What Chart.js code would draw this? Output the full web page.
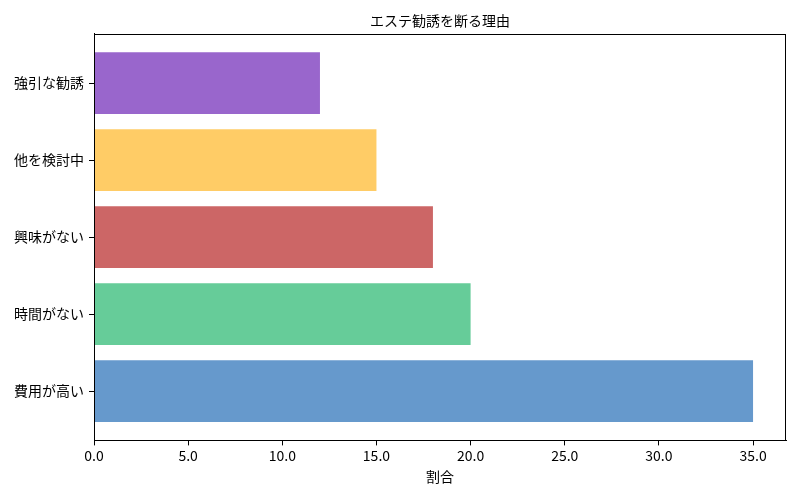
<!DOCTYPE html>
<html>
<head>
<meta charset="utf-8">
<script src="https://cdn.jsdelivr.net/npm/chart.js@4"></script>
<style>
  html, body { margin: 0; padding: 0; background: #fff; }
  #wrap { width: 800px; height: 500px; }
</style>
</head>
<body>
<div id="wrap"><canvas id="barchart_reasons" width="800" height="500"></canvas></div>
<script>
// categories bottom -> top
const categories = ['費用が高い', '時間がない', '興味がない', '他を検討中', '強引な勧誘'];
const shares = [35, 20, 18, 15, 12];
const barColors = ['#6699cc', '#66cc99', '#cc6666', '#ffcc66', '#9966cc'];
const xTicks = [0, 5, 10, 15, 20, 25, 30, 35];

const FONT = '"Noto Sans CJK JP", "Noto Sans", sans-serif';

// frame round the plot area, like the source
const frame = {
    id: 'frame',
    afterDraw(chart) {
        const a = chart.chartArea;
        const ctx = chart.ctx;
        ctx.save();
        ctx.strokeStyle = '#000';
        ctx.lineWidth = 1;
        ctx.strokeRect(Math.round(a.left) + 0.5, Math.round(a.top) + 0.5,
            Math.round(a.right - a.left) - 1, Math.round(a.bottom - a.top) - 1);
        ctx.restore();
    }
};

const showChart = () => {
    const n = categories.length;
    new Chart('barchart_reasons', {
        type: 'bar',
        data: {
            datasets: [{
                data: shares.map((v, i) => ({ x: v, y: i })),
                backgroundColor: barColors,
                borderWidth: 0,
                categoryPercentage: 0.8,
                barPercentage: 1.0
            }]
        },
        options: {
            indexAxis: 'y',
            responsive: false,
            animation: false,
            layout: { padding: { left: 0, right: 14, top: 0, bottom: 8 } },
            plugins: {
                legend: { display: false },
                tooltip: { enabled: false },
                title: {
                    display: true,
                    text: 'エステ勧誘を断る理由',
                    color: '#000',
                    fullSize: false,
                    font: { family: FONT, size: 14, weight: 'normal' },
                    padding: { top: 12, bottom: 5 }
                }
            },
            scales: {
                x: {
                    type: 'linear',
                    min: 0,
                    max: Math.max(...shares) * 1.05,
                    afterBuildTicks: (scale) => {
                        scale.ticks = xTicks.map(v => ({ value: v }));
                    },
                    ticks: {
                        color: '#000',
                        padding: 2,
                        maxRotation: 0,
                        font: { family: FONT, size: 14 },
                        callback: (value) => Number(value).toFixed(1)
                    },
                    grid: { drawOnChartArea: false, drawTicks: true, tickLength: 5, color: '#000' },
                    border: { display: true, color: '#000', width: 1 },
                    title: {
                        display: true,
                        text: '割合',
                        color: '#000',
                        font: { family: FONT, size: 14 },
                        padding: { top: 2, bottom: 7 }
                    }
                },
                y: {
                    type: 'linear',
                    offset: false,
                    min: -0.64,
                    max: n - 1 + 0.64,
                    afterBuildTicks: (scale) => {
                        scale.ticks = categories.map((c, i) => ({ value: i }));
                    },
                    afterFit: (scale) => { scale.width = 94; },
                    ticks: {
                        color: '#000',
                        padding: 5,
                        font: { family: FONT, size: 14 },
                        callback: (value) => categories[value]
                    },
                    grid: { offset: false, drawOnChartArea: false, drawTicks: true, tickLength: 5, color: '#000' },
                    border: { display: true, color: '#000', width: 1 }
                }
            }
        },
        plugins: [frame]
    });
};

showChart();
</script>
</body>
</html>
